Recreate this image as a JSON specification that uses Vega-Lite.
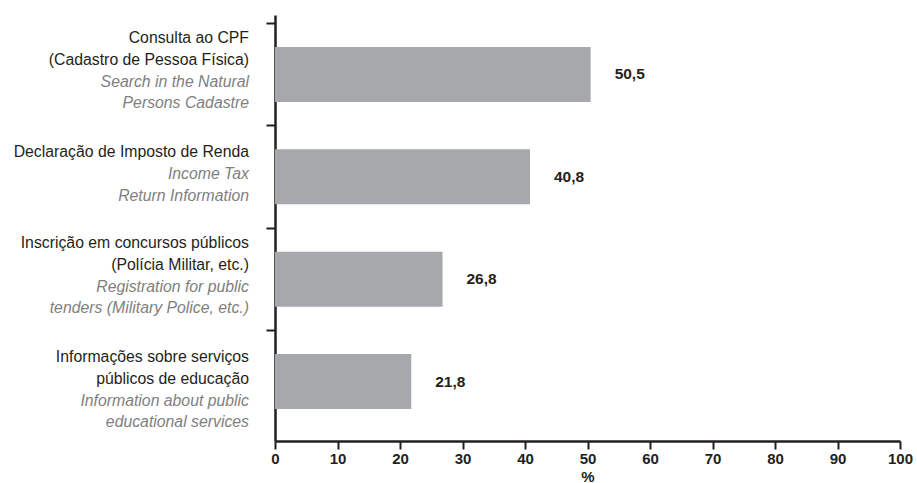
{
  "$schema": "https://vega.github.io/schema/vega-lite/v6.json",
  "width": 625,
  "height": 426,
  "autosize": {"type": "none"},
  "padding": {"left": 275, "top": 15, "right": 17, "bottom": 42},
  "background": "white",
  "config": {
    "view": {"stroke": null},
    "font": "Liberation Sans"
  },
  "data": {
    "values": [
      {"cat": "Consulta ao CPF", "pt": "Consulta ao CPF\n(Cadastro de Pessoa Física)", "en": "Search in the Natural\nPersons Cadastre", "value": 50.5, "label": "50,5"},
      {"cat": "Declaração de Imposto de Renda", "pt": "Declaração de Imposto de Renda", "en": "Income Tax\nReturn Information", "value": 40.8, "label": "40,8"},
      {"cat": "Inscrição em concursos públicos", "pt": "Inscrição em concursos públicos\n(Polícia Militar, etc.)", "en": "Registration for public\ntenders (Military Police, etc.)", "value": 26.8, "label": "26,8"},
      {"cat": "Informações sobre serviços", "pt": "Informações sobre serviços\npúblicos de educação", "en": "Information about public\neducational services", "value": 21.8, "label": "21,8"}
    ]
  },
  "encoding": {
    "y": {
      "field": "cat",
      "type": "nominal",
      "sort": null,
      "scale": {"paddingInner": 0, "paddingOuter": 0.08},
      "axis": {
        "title": null,
        "labels": false,
        "bandPosition": 0,
        "tickSize": 9,
        "tickWidth": 2,
        "tickColor": "#231f20",
        "domainColor": "#231f20",
        "domainWidth": 2.5
      }
    }
  },
  "layer": [
    {
      "mark": {"type": "bar", "color": "#a7a8ac", "size": 55},
      "encoding": {
        "x": {
          "field": "value",
          "type": "quantitative",
          "scale": {"domain": [0, 100], "nice": false},
          "axis": {
            "values": [0, 10, 20, 30, 40, 50, 60, 70, 80, 90, 100],
            "grid": false,
            "title": "%",
            "titleFontSize": 15,
            "titleFontWeight": "bold",
            "titleColor": "#231f20",
            "titlePadding": 3,
            "labelFontSize": 15,
            "labelFontWeight": "bold",
            "labelColor": "#231f20",
            "labelPadding": 2,
            "tickSize": 8,
            "tickWidth": 2,
            "tickColor": "#231f20",
            "domainColor": "#231f20",
            "domainWidth": 2.5,
            "labelFlush": false
          }
        }
      }
    },
    {
      "mark": {"type": "text", "align": "left", "baseline": "middle", "dx": 24, "fontSize": 15.5, "fontWeight": "bold", "color": "#231f20"},
      "encoding": {
        "x": {"field": "value", "type": "quantitative"},
        "text": {"field": "label", "type": "nominal"}
      }
    },
    {
      "transform": [{"filter": {"field": "cat", "oneOf": ["Consulta ao CPF", "Inscrição em concursos públicos"]}}],
      "mark": {"type": "text", "align": "right", "baseline": "middle", "dx": -26, "dy": -36, "fontSize": 15.8, "lineHeight": 21.7, "lineBreak": "\n", "color": "#231f20"},
      "encoding": {
        "x": {"datum": 0, "type": "quantitative"},
        "text": {"field": "pt", "type": "nominal"}
      }
    },
    {
      "transform": [{"filter": {"field": "cat", "oneOf": ["Declaração de Imposto de Renda", "Informações sobre serviços"]}}],
      "mark": {"type": "text", "align": "right", "baseline": "middle", "dx": -26, "dy": -24.5, "fontSize": 15.8, "lineHeight": 21.7, "lineBreak": "\n", "color": "#231f20"},
      "encoding": {
        "x": {"datum": 0, "type": "quantitative"},
        "text": {"field": "pt", "type": "nominal"}
      }
    },
    {
      "transform": [{"filter": {"field": "cat", "oneOf": ["Consulta ao CPF", "Inscrição em concursos públicos"]}}],
      "mark": {"type": "text", "align": "right", "baseline": "middle", "dx": -26, "dy": 7.4, "fontSize": 15.8, "lineHeight": 21.7, "lineBreak": "\n", "fontStyle": "italic", "color": "#808080"},
      "encoding": {
        "x": {"datum": 0, "type": "quantitative"},
        "text": {"field": "en", "type": "nominal"}
      }
    },
    {
      "transform": [{"filter": {"field": "cat", "equal": "Informações sobre serviços"}}],
      "mark": {"type": "text", "align": "right", "baseline": "middle", "dx": -26, "dy": 18.9, "fontSize": 15.8, "lineHeight": 21.7, "lineBreak": "\n", "fontStyle": "italic", "color": "#808080"},
      "encoding": {
        "x": {"datum": 0, "type": "quantitative"},
        "text": {"field": "en", "type": "nominal"}
      }
    },
    {
      "transform": [{"filter": {"field": "cat", "equal": "Declaração de Imposto de Renda"}}],
      "mark": {"type": "text", "align": "right", "baseline": "middle", "dx": -26, "dy": -2.8, "fontSize": 15.8, "lineHeight": 21.7, "lineBreak": "\n", "fontStyle": "italic", "color": "#808080"},
      "encoding": {
        "x": {"datum": 0, "type": "quantitative"},
        "text": {"field": "en", "type": "nominal"}
      }
    }
  ]
}
